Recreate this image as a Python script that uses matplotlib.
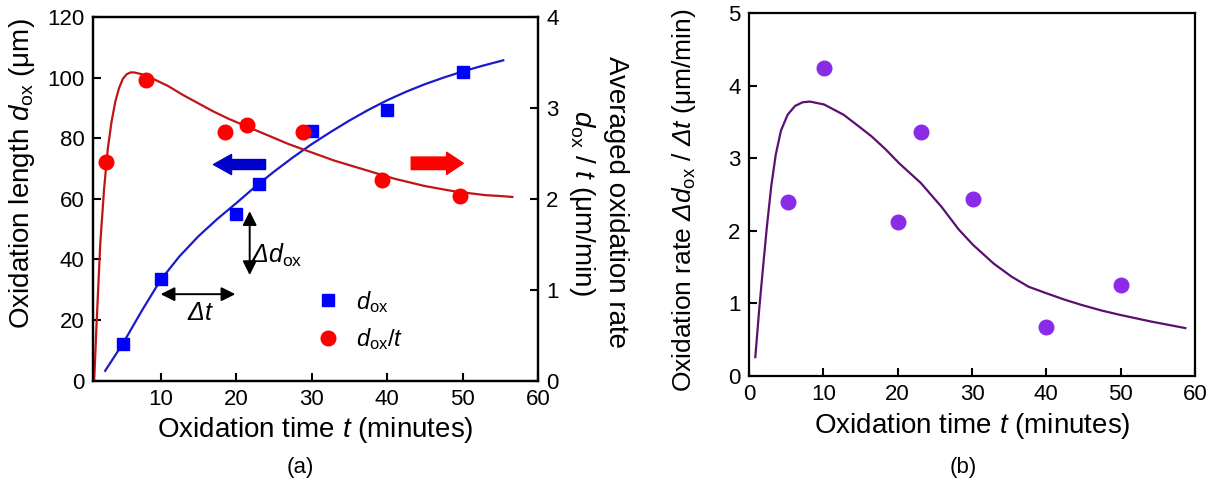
import numpy as np
import matplotlib
matplotlib.use('Agg')
import matplotlib.pyplot as plt

plt.rcParams['font.family'] = ['Liberation Sans', 'DejaVu Sans']
plt.rcParams['mathtext.fontset'] = 'custom'
plt.rcParams['mathtext.rm'] = 'Liberation Sans'
plt.rcParams['mathtext.it'] = 'Liberation Sans:italic'
plt.rcParams['mathtext.bf'] = 'Liberation Sans:bold'
# sf slot used for an italic Delta (mathtext forces Greek capitals upright in \mathit)
plt.rcParams['mathtext.sf'] = 'Liberation Sans:italic'

# Panel (a): oxidation length (left axis) and averaged rate (right axis)
t_len = [5, 10, 20, 23, 30, 40, 50]
d_len = [12, 33.5, 55, 65, 82.4, 89.3, 101.8]

t_avg = [2.8, 8.0, 18.5, 21.4, 28.9, 39.3, 49.7]
r_avg = [2.40, 3.31, 2.73, 2.81, 2.73, 2.21, 2.03]

# fitted curves
fit_len_t = [2.65, 5, 7.5, 10, 12.5, 15, 17.5, 20, 22.5, 25, 27.5, 30, 32.5,
             35, 37.5, 40, 42.5, 45, 47.5, 50, 52.5, 55.4]
fit_len_d = [3.2, 12.2, 23.0, 33.2, 41.0, 47.6, 53.3, 58.5, 63.9, 68.9, 73.6,
             78.0, 82.0, 85.8, 89.3, 92.5, 95.3, 97.8, 100.0, 102.0, 103.8, 105.7]

fit_avg_t = [1.2, 1.5, 2.0, 2.5, 3.0, 3.5, 4.0, 4.5, 5.0, 5.5, 6.0, 6.5, 7.5,
             9, 11, 13, 15, 17, 19, 21, 23, 25, 27, 29, 31, 33, 35, 37, 39,
             41, 43, 45, 47, 49, 51, 53, 55, 56.6]
fit_avg_r = [0.0, 0.6, 1.5, 2.1, 2.55, 2.85, 3.07, 3.22, 3.32, 3.37, 3.39,
             3.39, 3.37, 3.32, 3.24, 3.14, 3.05, 2.96, 2.88, 2.81, 2.74, 2.67,
             2.60, 2.54, 2.48, 2.42, 2.37, 2.32, 2.27, 2.22, 2.18, 2.14, 2.11,
             2.08, 2.06, 2.04, 2.03, 2.02]

# Panel (b): oxidation rate
t_rate = [5.2, 10.1, 20.1, 23.1, 30.1, 40, 50]
rate = [2.39, 4.24, 2.12, 3.36, 2.44, 0.68, 1.26]

fit_rate_t = [0.85, 1.4, 1.9, 2.4, 3.0, 3.6, 4.3, 5.2, 6.2, 7.2, 8.2, 10.1,
              12.7, 14.5, 16.5, 18.4, 20.2, 23.1, 25.9, 28.2, 30.1, 32.9, 35.3,
              37.6, 40, 42.5, 44.7, 47.5, 50, 54.1, 58.7]
fit_rate_v = [0.26, 0.95, 1.51, 2.05, 2.62, 3.05, 3.38, 3.6, 3.72, 3.77, 3.78,
              3.74, 3.6, 3.46, 3.3, 3.12, 2.93, 2.66, 2.33, 2.02, 1.81, 1.55,
              1.37, 1.23, 1.14, 1.05, 0.98, 0.9, 0.84, 0.75, 0.66]

W, H = 1212, 490
fig = plt.figure(figsize=(W / 100, H / 100), dpi=100)

ax1 = fig.add_axes([92.7 / W, 1 - 380.5 / H, (538 - 92.7) / W, (380.5 - 17) / H])
ax2 = ax1.twinx()
ax3 = fig.add_axes([749 / W, 1 - 376 / H, (1195 - 749) / W, (376 - 13) / H])

TICK = 16
LAB = 20

for ax in (ax1, ax2, ax3):
    for sp in ax.spines.values():
        sp.set_linewidth(1.6)
    ax.tick_params(direction='in', length=6, width=1.5, labelsize=TICK, pad=6)

ax1.tick_params(right=False)
ax2.tick_params(left=False, bottom=False)

# panel (a)
ax1.plot(fit_len_t, fit_len_d, color='#1a1acc', lw=1.6, zorder=2)
ax1.plot(t_len, d_len, 's', color='#0000ff', ms=9, zorder=3)
ax2.plot(fit_avg_t, fit_avg_r, color='#c01515', lw=1.6, zorder=2)
ax2.plot(t_avg, r_avg, 'o', color='#ff0000', ms=10.5, zorder=3)

ax1.set_xlim(1, 60)
ax1.set_ylim(0, 120)
ax2.set_ylim(0, 4)
ax1.set_xticks([10, 20, 30, 40, 50, 60])
ax1.set_yticks([0, 20, 40, 60, 80, 100, 120])
ax2.set_yticks([0, 1, 2, 3, 4])

ax1.set_xlabel(r'Oxidation time $t$ (minutes)', fontsize=LAB, labelpad=4)
ax1.set_ylabel(r'Oxidation length $d_{\rm ox}$ (μm)', fontsize=LAB, labelpad=7)
ax1.yaxis.label.set_y(0.57)
ax2.text(1.098, 0.49, r'$d_{\rm ox}$ / $t$ (μm/min)', transform=ax2.transAxes,
         rotation=270, ha='center', va='center', fontsize=LAB)
ax2.text(1.175, 0.49, 'Averaged oxidation rate', transform=ax2.transAxes,
         rotation=270, ha='center', va='center', fontsize=LAB)

# direction arrows
ax1.annotate('', xy=(17.0, 71.3), xytext=(23.9, 71.3),
             arrowprops=dict(arrowstyle='simple,head_length=1.3,head_width=1.45,tail_width=0.72',
                             color='#0000cc', shrinkA=0, shrinkB=0, mutation_scale=10))
ax2.annotate('', xy=(50.1, 2.39), xytext=(43.2, 2.39),
             arrowprops=dict(arrowstyle='simple,head_length=1.2,head_width=1.6,tail_width=0.9',
                             color='#ff0000', shrinkA=0, shrinkB=0, mutation_scale=10))

# delta arrows
ax1.annotate('', xy=(21.8, 55.9), xytext=(21.8, 34.8),
             arrowprops=dict(arrowstyle='<|-|>,head_length=0.6,head_width=0.3',
                             color='black', lw=1.4, shrinkA=0, shrinkB=0, mutation_scale=14))
ax1.annotate('', xy=(10.0, 28.5), xytext=(19.9, 28.5),
             arrowprops=dict(arrowstyle='<|-|>,head_length=0.6,head_width=0.3',
                             color='black', lw=1.4, shrinkA=0, shrinkB=0, mutation_scale=14))
ax1.text(22.0, 41.3, r'$\mathsf{\Delta}\mathit{d}_{\rm ox}$', fontsize=18, ha='left', va='center')
ax1.text(15.3, 22.4, r'$\mathsf{\Delta}\mathit{t}$', fontsize=18, ha='center', va='center')

# legend
h_len, = ax1.plot([], [], 's', color='#0000ff', ms=9)
h_avg, = ax1.plot([], [], 'o', color='#ff0000', ms=10.5)
ax1.legend([h_len, h_avg], [r'$d_{\rm ox}$', r'$d_{\rm ox}$/$t$'], loc='center left',
           bbox_to_anchor=(0.47, 0.165), frameon=False, fontsize=17,
           handletextpad=0.6, labelspacing=0.5, handlelength=1.2, borderpad=0)

# panel (b)
ax3.plot(fit_rate_t, fit_rate_v, color='#5a1070', lw=1.6, zorder=2)
ax3.plot(t_rate, rate, 'o', color='#8a2be8', ms=10.5, zorder=3)
ax3.set_xlim(0, 60)
ax3.set_ylim(0, 5)
ax3.set_xticks([0, 10, 20, 30, 40, 50, 60])
ax3.set_yticks([0, 1, 2, 3, 4, 5])
ax3.set_xlabel(r'Oxidation time $t$ (minutes)', fontsize=LAB, labelpad=4)
ax3.set_ylabel(r'Oxidation rate $\mathsf{\Delta}\mathit{d}_{\rm ox}$ / $\mathsf{\Delta}\mathit{t}$ (μm/min)',
               fontsize=19, labelpad=22)
ax3.yaxis.label.set_y(0.485)

fig.text(300 / W, 1 - 467 / H, '(a)', fontsize=16, ha='center', va='center')
fig.text(963 / W, 1 - 467 / H, '(b)', fontsize=16, ha='center', va='center')

fig.savefig('out.png', dpi=100)
